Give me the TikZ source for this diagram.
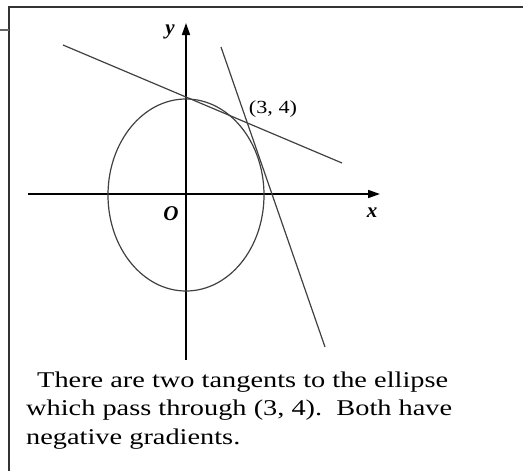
\documentclass[tikz,border=0pt]{standalone}
\usepackage{fontspec}
\setmainfont{Liberation Serif}
\newfontfamily\txtfont[FakeStretch=1.26]{Liberation Serif}
\newfontfamily\ptfont[FakeStretch=1.2]{Liberation Serif}
\usetikzlibrary{arrows.meta,shapes.geometric}
\tikzset{
  axis/.style={line width=1.6pt,-{Triangle[length=12pt,width=8pt]}},
  curve/.style={line width=1.2pt,draw=black!75},
  lbl/.style={inner sep=0pt,font=\fontsize{21}{21}\selectfont\bfseries\itshape},
  pt/.style={inner sep=0pt,font=\ptfont\fontsize{18.5}{18.5}\selectfont},
  caption/.style={inner sep=0pt,anchor=base west,font=\txtfont\fontsize{22.5}{22.5}\selectfont},
  frame/.style={line width=1.8pt,draw=black!80}
}
\begin{document}
\begin{tikzpicture}[x=1pt,y=-1pt]
\useasboundingbox (0,0) rectangle (523,471);
% frame
\coordinate (fl) at (9,471);
\coordinate (ftl) at (9,7);
\coordinate (ftr) at (523,7);
\coordinate (stubA) at (0,30);
\coordinate (stubB) at (9,30);
\draw[frame] (fl) -- (ftl) -- (ftr);
\draw[line width=1.4pt,draw=black!60] (stubA) -- (stubB);
% axes
\coordinate (xs) at (28,194);
\coordinate (xe) at (380,194);
\coordinate (ys) at (186,360);
\coordinate (ye) at (186,23);
\draw[axis] (xs) -- (xe);
\draw[axis] (ys) -- (ye);
% ellipse
\node[ellipse,curve,minimum width=156pt,minimum height=192pt,inner sep=0pt] (ell) at (186,195) {};
% tangents
\coordinate (t1a) at (63,45);
\coordinate (t1b) at (342,163);
\coordinate (t2a) at (221,47);
\coordinate (t2b) at (325,347);
\draw[curve] (t1a) -- (t1b);
\draw[curve] (t2a) -- (t2b);
% labels
\node[lbl] (ylab) at (170,32) {y};
\node[lbl] (xlab) at (372,213) {x};
\node[lbl] (olab) at (171,214) {O};
\node[pt] (plab) at (273,109) {(3, 4)};
% caption
\node[caption] (c1) at (37,387) {There are two tangents to the ellipse};
\node[caption] (c2) at (26,415) {which pass through (3, 4).\ \ Both have};
\node[caption] (c3) at (26,444) {negative gradients.};
\end{tikzpicture}
\end{document}
